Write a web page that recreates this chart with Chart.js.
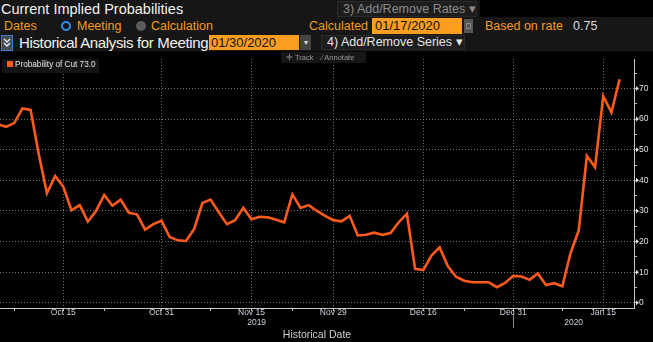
<!DOCTYPE html>
<html>
<head>
<meta charset="utf-8">
<script src="https://cdn.jsdelivr.net/npm/chart.js@4.4.1/dist/chart.umd.min.js"></script>
<style>
  html, body { margin: 0; padding: 0; background: #000; }
  body { width: 653px; height: 342px; overflow: hidden; position: relative;
         font-family: "Liberation Sans", Arial, sans-serif; }
  .abs { position: absolute; white-space: nowrap; }
  #head { position: absolute; left: 0; top: 0; width: 653px; height: 52px; background: #161616;
          border-bottom: 1px solid #0a0a0a; box-sizing: border-box; }
  .orange { color: #f49c1f; }
  .box { position: absolute; box-sizing: border-box; }
  .inp { background: #fb9d1f; color: #111; }
  .btn { background: #1d1d1d; border: 1px solid #2a2a2a; }
  #chartWrap { position: absolute; left: 0; top: 52px; width: 653px; height: 290px; }
  #legend { position: absolute; left: 2px; top: 59px; width: 97px; height: 14px; background: #141414; }
  #legend .sw { position: absolute; left: 5px; top: 2px; width: 6px; height: 6px; background: #fd5a1e; }
  #legend .tx { position: absolute; left: 13px; top: 0; line-height: 11px; font-size: 8.2px; color: #e6e6e6; }
  #tools { position: absolute; left: 281px; top: 52px; width: 85px; height: 11px; background: #161616;
           font-size: 7.5px; line-height: 11px; color: #9a9a9a; }
</style>
</head>
<body>
<div id="head">
  <div class="abs" style="left:1px;top:0;line-height:18px;font-size:14.5px;color:#f2f2f2;">Current Implied Probabilities</div>
  <div class="box btn" style="left:337px;top:1px;width:140px;height:16px;"></div>
  <div class="abs" style="left:343px;top:1px;line-height:16px;font-size:12.5px;color:#8c8c8c;">3) Add/Remove Rates &#9662;</div>
  <div class="box" style="left:480px;top:0;width:173px;height:17px;background:#000;"></div>

  <div class="abs orange" style="left:4px;top:18px;line-height:16px;font-size:12.5px;">Dates</div>
  <div class="box" style="left:61px;top:21px;width:10px;height:10px;border:2px solid #2e8ff0;border-radius:50%;background:#111;"></div>
  <div class="abs orange" style="left:77px;top:18px;line-height:16px;font-size:12.5px;">Meeting</div>
  <div class="box" style="left:136px;top:21px;width:10px;height:10px;border-radius:50%;background:#5a5a5a;"></div>
  <div class="abs orange" style="left:151px;top:18px;line-height:16px;font-size:12.5px;">Calculation</div>
  <div class="abs orange" style="left:309px;top:18px;line-height:16px;font-size:12.5px;">Calculated</div>
  <div class="box inp" style="left:372px;top:18px;width:90px;height:16px;"></div>
  <div class="abs" style="left:375px;top:18px;line-height:16px;font-size:13px;color:#111;">01/17/2020</div>
  <div class="box" style="left:464px;top:19px;width:9px;height:14px;background:#555;">
    <div class="box" style="left:2px;top:4px;width:5px;height:6px;border:1px solid #888;"></div>
  </div>
  <div class="abs orange" style="left:485px;top:18px;line-height:16px;font-size:12.5px;">Based on rate</div>
  <div class="abs" style="left:573px;top:18px;line-height:16px;font-size:12.5px;color:#dcdcdc;">0.75</div>

  <div class="box" style="left:1px;top:35px;width:12px;height:16px;border:1px solid #3b7fd6;background:#4a4a4a;">
    <svg width="10" height="14" style="position:absolute;left:0;top:0">
      <polyline points="2,3 5,6 8,3" fill="none" stroke="#eee" stroke-width="1.4"/>
      <polyline points="2,7 5,10 8,7" fill="none" stroke="#eee" stroke-width="1.4"/>
    </svg>
  </div>
  <div class="abs" style="left:19px;top:34px;line-height:17px;font-size:15px;letter-spacing:-0.35px;color:#f2f2f2;">Historical Analysis for Meeting</div>
  <div class="box inp" style="left:209px;top:35px;width:90px;height:15px;"></div>
  <div class="abs" style="left:211px;top:34px;line-height:17px;font-size:13px;color:#111;">01/30/2020</div>
  <div class="box" style="left:300px;top:35px;width:11px;height:15px;background:#444;color:#ddd;font-size:8px;line-height:15px;text-align:center;">&#9662;</div>
  <div class="box btn" style="left:321px;top:35px;width:144px;height:15px;"></div>
  <div class="abs" style="left:327px;top:34px;line-height:17px;font-size:12.5px;color:#e6e6e6;">4) Add/Remove Series &#9662;</div>
</div>

<div id="chartWrap"><canvas id="grafico" width="653" height="290"></canvas></div>

<div id="legend"><div class="sw"></div><div class="tx" id="legendText"></div></div>
<div id="tools"><span style="margin-left:5px;">&#10011; Track</span><span style="margin-left:8px;">&#8725; Annotate</span></div>

<script>
// Fechas hábiles (días de semana) del histórico
const fechas = [
  '2019-10-03','2019-10-04','2019-10-07','2019-10-08','2019-10-09','2019-10-10','2019-10-11',
  '2019-10-14','2019-10-15','2019-10-16','2019-10-17','2019-10-18','2019-10-21','2019-10-22',
  '2019-10-23','2019-10-24','2019-10-25','2019-10-28','2019-10-29','2019-10-30','2019-10-31',
  '2019-11-01','2019-11-04','2019-11-05','2019-11-06','2019-11-07','2019-11-08','2019-11-11',
  '2019-11-12','2019-11-13','2019-11-14','2019-11-15','2019-11-18','2019-11-19','2019-11-20',
  '2019-11-21','2019-11-22','2019-11-25','2019-11-26','2019-11-27','2019-11-28','2019-11-29',
  '2019-12-02','2019-12-03','2019-12-04','2019-12-05','2019-12-06','2019-12-09','2019-12-10',
  '2019-12-11','2019-12-12','2019-12-13','2019-12-16','2019-12-17','2019-12-18','2019-12-19',
  '2019-12-20','2019-12-23','2019-12-24','2019-12-25','2019-12-26','2019-12-27','2019-12-30',
  '2019-12-31','2020-01-01','2020-01-02','2020-01-03','2020-01-06','2020-01-07','2020-01-08',
  '2020-01-09','2020-01-10','2020-01-13','2020-01-14','2020-01-15','2020-01-16','2020-01-17'
];

// Probabilidad de recorte (%) para la reunión del 01/30/2020
const probCorte = [
  58.3, 57.5, 58.7, 63.5, 63.0, 48.5, 35.8,
  41.4, 37.9, 30.2, 31.9, 26.5, 30.0, 35.2,
  31.7, 33.7, 29.4, 28.9, 23.9, 25.7, 26.8,
  21.5, 20.4, 20.2, 24.1, 32.6, 33.7, 29.6,
  25.7, 27.0, 31.0, 27.3, 28.1, 27.9, 27.1,
  26.3, 35.4, 31.0, 31.9, 30.0, 28.4, 27.0,
  26.6, 28.4, 22.0, 22.2, 22.9, 22.2, 22.8,
  26.3, 29.1, 11.1, 10.7, 15.4, 18.1, 12.0,
  8.5, 7.2, 6.7, 6.7, 6.7, 5.1, 6.5,
  8.8, 8.6, 7.5, 9.6, 5.8, 6.4, 5.4,
  16.2, 23.6, 48.0, 44.3, 67.5, 62.2, 73.0
];

// Etiquetas del eje X (principales y marcas menores)
const fechasEtiqueta = ['2019-10-15','2019-10-31','2019-11-15','2019-11-29','2019-12-16','2019-12-31','2020-01-15'];
const textosEtiqueta = ['Oct 15','Oct 31','Nov 15','Nov 29','Dec 16','Dec 31','Jan 15'];
const fechasMenores = ['2019-10-07','2019-10-22','2019-11-08','2019-11-22','2019-12-23','2020-01-08'];
const anios = ['2019', '2020'];
const finAnio = '2019-12-31';

// Marcas del eje Y
const ticksY = [0, 5, 10, 15, 20, 25, 30, 35, 40, 45, 50, 55, 60, 65, 70, 75];

const NARANJA = '#fd5a1e';
const idxEtiqueta = fechasEtiqueta.map(f => fechas.indexOf(f));
const idxMenores = fechasMenores.map(f => fechas.indexOf(f));
const idxFinAnio = fechas.indexOf(finAnio);

document.getElementById('legendText').textContent =
  'Probability of Cut  ' + probCorte[probCorte.length - 1].toFixed(1);

// Años debajo de las etiquetas y separador de año
const pluginAnios = {
  id: 'anios',
  afterDraw(chart) {
    const { ctx, chartArea } = chart;
    const x = chart.scales.x;
    const xSep = x.getPixelForValue(idxFinAnio);
    ctx.save();
    ctx.strokeStyle = '#8a8a8a';
    ctx.lineWidth = 1;
    ctx.beginPath();
    ctx.moveTo(Math.round(xSep) + 0.5, chartArea.bottom + 3);
    ctx.lineTo(Math.round(xSep) + 0.5, chartArea.bottom + 20);
    ctx.stroke();
    ctx.fillStyle = '#c9d2de';
    ctx.font = '8.5px "Liberation Sans", Arial, sans-serif';
    ctx.textAlign = 'center';
    ctx.textBaseline = 'middle';
    ctx.fillText(anios[0], (chartArea.left + xSep) / 2, chartArea.bottom + 15);
    ctx.fillText(anios[1], (xSep + chartArea.right) / 2, chartArea.bottom + 15);
    // flechas de las marcas principales del eje Y
    const y = chart.scales.y;
    ctx.fillStyle = '#e0e0e0';
    ticksY.filter(v => v % 10 === 0).forEach(v => {
      const py = y.getPixelForValue(v);
      ctx.beginPath();
      ctx.moveTo(chartArea.right + 2, py - 2.5);
      ctx.lineTo(chartArea.right + 5, py);
      ctx.lineTo(chartArea.right + 2, py + 2.5);
      ctx.closePath();
      ctx.fill();
    });
    ctx.restore();
  }
};

const grafico = new Chart(document.getElementById('grafico').getContext('2d'), {
  type: 'line',
  data: {
    datasets: [{
      label: 'Probability of Cut',
      data: probCorte.map((v, i) => ({ x: i, y: v })),
      borderColor: NARANJA,
      borderWidth: 2.6,
      pointRadius: 0,
      tension: 0,
      fill: false
    }]
  },
  options: {
    responsive: false,
    animation: false,
    layout: { padding: 0 },
    plugins: { legend: { display: false }, tooltip: { enabled: false } },
    scales: {
      x: {
        type: 'linear',
        bounds: 'data',
        min: 0.26,
        max: 77.76,
        afterBuildTicks: s => { s.ticks = idxEtiqueta.concat(idxMenores).sort((a, b) => a - b).map(v => ({ value: v })); },
        afterFit: s => { s.height = 34; },
        grid: {
          color: c => idxEtiqueta.includes(c.tick && c.tick.value) ? '#707070' : 'rgba(0,0,0,0)',
          tickColor: '#bdbdbd',
          tickLength: 3,
          lineWidth: 1
        },
        border: { display: true, color: '#c8c8c8', width: 1, dash: [1, 2] },
        ticks: {
          autoSkip: false,
          maxRotation: 0,
          padding: -3,
          color: '#c9d2de',
          font: { size: 8.5, family: '"Liberation Sans", Arial, sans-serif' },
          callback: v => {
            const k = idxEtiqueta.indexOf(v);
            return k >= 0 ? textosEtiqueta[k] : '';
          }
        },
        title: {
          display: true,
          text: 'Historical Date',
          color: '#cfcfcf',
          font: { size: 10.5, family: '"Liberation Sans", Arial, sans-serif' },
          padding: { top: 0, bottom: 1 }
        }
      },
      y: {
        position: 'right',
        min: -1.7,
        max: 79.6,
        afterBuildTicks: s => { s.ticks = ticksY.map(v => ({ value: v })); },
        afterFit: s => { s.width = 19; },
        grid: {
          color: c => (c.tick && c.tick.value % 10 === 0) ? '#707070' : 'rgba(0,0,0,0)',
          tickColor: '#bdbdbd',
          tickLength: 3,
          lineWidth: 1
        },
        border: { display: true, color: '#c8c8c8', width: 1, dash: [1, 2] },
        ticks: {
          padding: 2,
          color: '#e0e0e0',
          font: { size: 8.5, family: '"Liberation Sans", Arial, sans-serif' },
          callback: v => (v % 10 === 0 ? String(v) : '')
        }
      }
    }
  },
  plugins: [pluginAnios]
});
</script>
</body>
</html>
